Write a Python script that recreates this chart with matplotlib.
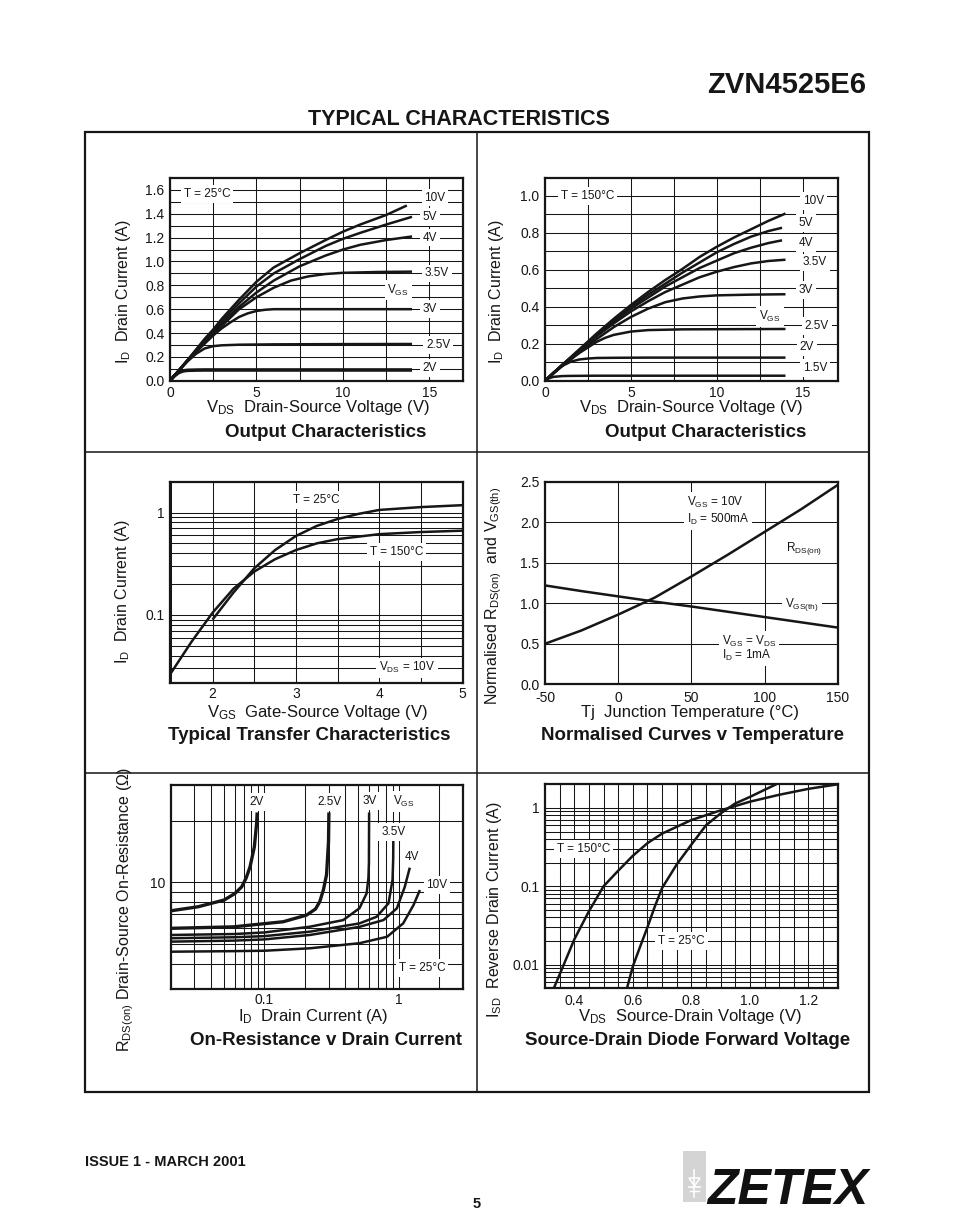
import matplotlib
matplotlib.use('Agg')
import matplotlib.pyplot as plt
from matplotlib.ticker import FixedLocator, NullFormatter
from matplotlib import font_manager
from matplotlib.patches import Rectangle, Polygon
from matplotlib.lines import Line2D

# ---------------- data ----------------
# Panel 1 : Output characteristics, T = 25C  (VDS [V], ID [A])
p1_v_10 = [0, 0.5, 1, 1.5, 2, 2.5, 3, 3.5, 4, 5, 6, 7.5, 9, 10, 11, 12.5, 13.7]
p1_i_10 = [0, 0.085, 0.17, 0.26, 0.35, 0.43, 0.52, 0.6, 0.68, 0.83, 0.95, 1.07, 1.18, 1.25, 1.31, 1.39, 1.47]
p1_v_5 = [0, 0.5, 1, 1.5, 2, 2.5, 3, 3.5, 4, 5, 6, 7.5, 9, 10, 11, 12.5, 14]
p1_i_5 = [0, 0.085, 0.17, 0.255, 0.34, 0.42, 0.5, 0.575, 0.65, 0.79, 0.9, 1.02, 1.13, 1.19, 1.24, 1.31, 1.375]
p1_v_4 = [0, 0.5, 1, 1.5, 2, 2.5, 3, 3.5, 4, 5, 6, 7.5, 9, 10, 11, 12.5, 14]
p1_i_4 = [0, 0.085, 0.17, 0.25, 0.33, 0.405, 0.48, 0.55, 0.62, 0.74, 0.84, 0.96, 1.05, 1.1, 1.14, 1.18, 1.21]
p1_v_35 = [0, 0.5, 1, 1.5, 2, 2.5, 3, 3.5, 4, 4.5, 5, 5.5, 6, 7, 8, 9, 10, 12, 14]
p1_i_35 = [0, 0.085, 0.165, 0.245, 0.32, 0.39, 0.46, 0.53, 0.6, 0.65, 0.7, 0.74, 0.78, 0.84, 0.875, 0.895, 0.905, 0.912, 0.915]
p1_v_3 = [0, 0.5, 1, 1.5, 2, 2.5, 3, 3.5, 4, 4.5, 5, 5.5, 6, 7, 10, 14]
p1_i_3 = [0, 0.085, 0.165, 0.24, 0.31, 0.38, 0.44, 0.49, 0.535, 0.565, 0.585, 0.595, 0.6, 0.6, 0.6, 0.6]
p1_v_25 = [0, 0.5, 1, 1.5, 2, 2.5, 3, 4, 6, 10, 14]
p1_i_25 = [0, 0.08, 0.16, 0.225, 0.27, 0.29, 0.297, 0.302, 0.305, 0.307, 0.308]
p1_v_2 = [0, 0.25, 0.5, 0.75, 1, 1.5, 2, 14]
p1_i_2 = [0, 0.04, 0.068, 0.082, 0.087, 0.089, 0.09, 0.09]
p1_labels = ['10V', '5V', '4V', '3.5V', '3V', '2.5V', '2V']
p1_label_x = [15.33, 15.04, 15.04, 15.42, 15.04, 15.52, 15.04]
p1_label_y = [1.536, 1.376, 1.2, 0.9, 0.6, 0.3, 0.109]
p1_xticks = [0, 5, 10, 15]
p1_xtlabels = ['0', '5', '10', '15']
p1_yticks = [0.0, 0.2, 0.4, 0.6, 0.8, 1.0, 1.2, 1.4, 1.6]
p1_ytlabels = ['0.0', '0.2', '0.4', '0.6', '0.8', '1.0', '1.2', '1.4', '1.6']

# Panel 2 : Output characteristics, T = 150C
p2_v_10 = [0, 1, 2, 3, 4, 5, 6, 7, 8, 9, 10, 11, 12, 13, 14]
p2_i_10 = [0, 0.085, 0.17, 0.255, 0.335, 0.41, 0.48, 0.545, 0.605, 0.67, 0.725, 0.775, 0.82, 0.865, 0.905]
p2_v_5 = [0, 1, 2, 3, 4, 5, 6, 7, 8, 9, 10, 11, 12, 13, 13.8]
p2_i_5 = [0, 0.085, 0.165, 0.25, 0.325, 0.4, 0.465, 0.525, 0.585, 0.64, 0.695, 0.74, 0.78, 0.81, 0.828]
p2_v_4 = [0, 1, 2, 3, 4, 5, 6, 7, 8, 9, 10, 11, 12, 13, 13.8]
p2_i_4 = [0, 0.085, 0.165, 0.245, 0.32, 0.39, 0.45, 0.51, 0.56, 0.61, 0.65, 0.69, 0.72, 0.745, 0.76]
p2_v_35 = [0, 1, 2, 3, 4, 5, 6, 7, 8, 9, 10, 11, 12, 13, 14]
p2_i_35 = [0, 0.085, 0.16, 0.24, 0.31, 0.375, 0.43, 0.48, 0.52, 0.56, 0.59, 0.615, 0.635, 0.648, 0.655]
p2_v_3 = [0, 1, 2, 3, 4, 5, 6, 7, 8, 9, 10, 12, 14]
p2_i_3 = [0, 0.08, 0.155, 0.225, 0.29, 0.345, 0.39, 0.425, 0.445, 0.456, 0.462, 0.466, 0.468]
p2_v_25 = [0, 1, 2, 2.5, 3, 3.5, 4, 5, 6, 8, 14]
p2_i_25 = [0, 0.08, 0.15, 0.18, 0.21, 0.232, 0.248, 0.266, 0.274, 0.278, 0.28]
p2_v_2 = [0, 0.5, 1, 1.5, 2, 2.5, 3, 4, 6, 14]
p2_i_2 = [0, 0.045, 0.08, 0.103, 0.115, 0.12, 0.123, 0.124, 0.125, 0.125]
p2_v_15 = [0, 0.25, 0.5, 1, 1.5, 3, 14]
p2_i_15 = [0, 0.014, 0.021, 0.025, 0.026, 0.027, 0.027]
p2_labels = ['10V', '5V', '4V', '3.5V', '3V', '2.5V', '2V', '1.5V']
p2_label_x = [15.62, 15.2, 15.2, 15.72, 15.2, 15.82, 15.23, 15.72]
p2_label_y = [0.973, 0.852, 0.744, 0.64, 0.49, 0.296, 0.184, 0.067]
p2_xticks = [0, 5, 10, 15]
p2_xtlabels = ['0', '5', '10', '15']
p2_yticks = [0.0, 0.2, 0.4, 0.6, 0.8, 1.0]
p2_ytlabels = ['0.0', '0.2', '0.4', '0.6', '0.8', '1.0']

# Panel 3 : Transfer characteristics (VGS [V], ID [A]), VDS = 10V
p3_vgs_150 = [1.5, 1.75, 2.0, 2.25, 2.5, 2.75, 3.0, 3.25, 3.5, 4.0, 4.5, 5.0]
p3_id_150 = [0.027, 0.055, 0.105, 0.18, 0.265, 0.35, 0.43, 0.5, 0.55, 0.615, 0.645, 0.665]
p3_vgs_25 = [2.0, 2.25, 2.5, 2.75, 3.0, 3.25, 3.5, 3.75, 4.0, 4.5, 5.0]
p3_id_25 = [0.09, 0.165, 0.285, 0.43, 0.59, 0.74, 0.865, 0.97, 1.06, 1.13, 1.18]
p3_xticks = [2, 3, 4, 5]
p3_xtlabels = ['2', '3', '4', '5']
p3_yticks = [0.02, 0.1, 1]
p3_ytlabels = ['0.02', '0.1', '1']

# Panel 4 : Normalised curves v temperature
p4_t_rds = [-50, -25, 0, 25, 50, 75, 100, 125, 150]
p4_rds = [0.5, 0.665, 0.86, 1.07, 1.33, 1.6, 1.88, 2.16, 2.46]
p4_t_vth = [-50, -25, 0, 25, 50, 75, 100, 125, 150]
p4_vth = [1.22, 1.15, 1.085, 1.02, 0.96, 0.895, 0.83, 0.765, 0.70]
p4_xticks = [-50, 0, 50, 100, 150]
p4_xtlabels = ['-50', '0', '50', '100', '150']
p4_yticks = [0.0, 0.5, 1.0, 1.5, 2.0, 2.5]
p4_ytlabels = ['0.0', '0.5', '1.0', '1.5', '2.0', '2.5']

# Panel 5 : On-resistance v drain current (ID [A], RDS(on) [ohm]), T = 25C
p5_i_2 = [0.02, 0.032, 0.05, 0.06, 0.0676, 0.073, 0.078, 0.084, 0.0874, 0.0882]
p5_r_2 = [7.25, 7.59, 8.19, 8.8, 9.5, 10.5, 11.9, 14.9, 19.5, 22]
p5_i_25 = [0.02, 0.0586, 0.138, 0.206, 0.24, 0.258, 0.275, 0.29, 0.3, 0.302]
p5_r_25 = [5.95, 6.05, 6.41, 6.91, 7.4, 8.03, 9.2, 10.9, 15.8, 22]
p5_i_3 = [0.02, 0.06, 0.1, 0.218, 0.386, 0.51, 0.577, 0.595, 0.6, 0.602]
p5_r_3 = [5.52, 5.58, 5.68, 6.06, 6.53, 7.46, 8.83, 10.5, 12.4, 22]
p5_i_35 = [0.02, 0.06, 0.1, 0.218, 0.51, 0.685, 0.84, 0.9, 0.91, 0.912]
p5_r_35 = [5.32, 5.38, 5.45, 5.73, 6.29, 6.78, 7.89, 10.3, 13.0, 16.0]
p5_i_4 = [0.02, 0.06, 0.1, 0.218, 0.51, 0.77, 0.97, 1.11, 1.21]
p5_r_4 = [5.12, 5.18, 5.25, 5.52, 6.05, 6.53, 7.46, 9.5, 11.8]
p5_i_10 = [0.02, 0.06, 0.1, 0.218, 0.51, 0.82, 1.08, 1.29, 1.44]
p5_r_10 = [4.57, 4.6, 4.62, 4.75, 5.03, 5.41, 6.29, 7.74, 9.17]
p5_xticks = [0.1, 1]
p5_xtlabels = ['0.1', '1']
p5_yticks = [10]
p5_ytlabels = ['10']

# Panel 6 : Source-drain diode forward voltage (VSD [V], ISD [A])
p6_v_150 = [0.33, 0.35, 0.4, 0.45, 0.5, 0.55, 0.6, 0.65, 0.7, 0.8, 0.9, 1.0, 1.1, 1.2, 1.3]
p6_i_150 = [0.005, 0.0075, 0.021, 0.048, 0.1, 0.158, 0.245, 0.355, 0.47, 0.7, 0.93, 1.2, 1.47, 1.75, 2.0]
p6_v_25 = [0.58, 0.6, 0.625, 0.65, 0.675, 0.7, 0.75, 0.8, 0.85, 0.9, 0.95, 1.0, 1.05, 1.09]
p6_i_25 = [0.005, 0.0095, 0.017, 0.03, 0.055, 0.095, 0.19, 0.34, 0.6, 0.85, 1.14, 1.38, 1.7, 2.0]
p6_xticks = [0.4, 0.6, 0.8, 1.0, 1.2]
p6_xtlabels = ['0.4', '0.6', '0.8', '1.0', '1.2']
p6_yticks = [0.01, 0.1, 1]
p6_ytlabels = ['0.01', '0.1', '1']

# ---------------- style ----------------
W, H = 954, 1227


def has_font(name):
    try:
        font_manager.findfont(font_manager.FontProperties(family=name), fallback_to_default=False)
        return True
    except Exception:
        return False


BASE = 'Liberation Sans' if has_font('Liberation Sans') else 'DejaVu Sans'
NARROW = 'Liberation Sans Narrow' if has_font('Liberation Sans Narrow') else BASE

plt.rcParams['font.family'] = [BASE, 'DejaVu Sans']
plt.rcParams['mathtext.fontset'] = 'custom'
plt.rcParams['mathtext.rm'] = BASE
plt.rcParams['mathtext.it'] = BASE + ':italic'
plt.rcParams['mathtext.bf'] = BASE + ':bold'

INK = '#161616'
CURVE_LW = 1.8
GRID_LW = 0.75
TICK_FS = 10
LAB_FS = 8.5
AX_FS = 11.5
TITLE_FS = 13.5

fig = plt.figure(figsize=(W / 100, H / 100), dpi=100)
fig.patch.set_facecolor('white')


def fx(x):
    return x / W


def fy(y):
    return 1 - y / H


def ftext(x, y, s, **kw):
    kw.setdefault('color', INK)
    fig.text(fx(x), fy(y), s, **kw)


def make_ax(l, t, r, b):
    ax = fig.add_axes([l / W, 1 - b / H, (r - l) / W, (b - t) / H])
    for s in ax.spines.values():
        s.set_linewidth(1.6)
        s.set_color(INK)
    ax.tick_params(which='both', length=0, labelsize=TICK_FS, pad=4, colors=INK)
    ax.set_axisbelow(True)
    return ax


def set_ticks(ax, xt, xl, yt, yl, xminor, yminor):
    ax.xaxis.set_major_locator(FixedLocator(xt))
    ax.set_xticklabels(xl)
    ax.yaxis.set_major_locator(FixedLocator(yt))
    ax.set_yticklabels(yl)
    ax.xaxis.set_minor_locator(FixedLocator(xminor))
    ax.yaxis.set_minor_locator(FixedLocator(yminor))
    ax.xaxis.set_minor_formatter(NullFormatter())
    ax.yaxis.set_minor_formatter(NullFormatter())
    ax.grid(True, which='both', color=INK, lw=GRID_LW)


def lab(ax, x, y, s, ha='center', fs=LAB_FS):
    ax.text(x, y, s, ha=ha, va='center', fontsize=fs, color=INK, zorder=5,
            bbox=dict(facecolor='white', edgecolor='none', pad=2.0))


def curve(ax, x, y, lw=CURVE_LW):
    ax.plot(x, y, color=INK, lw=lw, solid_capstyle='butt', zorder=4)


# ---------------- Panel 1 ----------------
ax1 = make_ax(170, 177.7, 462.7, 380.7)
ax1.set_xlim(0, 16.93)
ax1.set_ylim(0, 1.703)
set_ticks(ax1, p1_xticks, p1_xtlabels, p1_yticks, p1_ytlabels,
          [2.5, 7.5, 12.5], [0.1, 0.3, 0.5, 0.7, 0.9, 1.1, 1.3, 1.5])
for xs, ys in [(p1_v_10, p1_i_10), (p1_v_5, p1_i_5), (p1_v_4, p1_i_4), (p1_v_35, p1_i_35),
               (p1_v_3, p1_i_3), (p1_v_25, p1_i_25)]:
    curve(ax1, xs, ys)
curve(ax1, p1_v_2, p1_i_2, lw=2.6)
for s, x, y in zip(p1_labels, p1_label_x, p1_label_y):
    lab(ax1, x, y, s)
lab(ax1, 13.2, 0.76, r'$\mathrm{V_{GS}}$')
lab(ax1, 2.15, 1.565, 'T = 25°C')

# ---------------- Panel 2 ----------------
ax2 = make_ax(545, 177.7, 837.7, 380.7)
ax2.set_xlim(0, 17.04)
ax2.set_ylim(0, 1.099)
set_ticks(ax2, p2_xticks, p2_xtlabels, p2_yticks, p2_ytlabels,
          [2.5, 7.5, 12.5], [0.1, 0.3, 0.5, 0.7, 0.9])
for xs, ys in [(p2_v_10, p2_i_10), (p2_v_5, p2_i_5), (p2_v_4, p2_i_4), (p2_v_35, p2_i_35),
               (p2_v_3, p2_i_3), (p2_v_25, p2_i_25), (p2_v_2, p2_i_2), (p2_v_15, p2_i_15)]:
    curve(ax2, xs, ys)
for s, x, y in zip(p2_labels, p2_label_x, p2_label_y):
    lab(ax2, x, y, s)
lab(ax2, 13.1, 0.347, r'$\mathrm{V_{GS}}$')
lab(ax2, 2.46, 1.0, 'T = 150°C')

# ---------------- Panel 3 ----------------
ax3 = make_ax(170, 481.7, 462.7, 683.3)
ax3.set_yscale('log')
ax3.set_xlim(1.49, 5.0)
ax3.set_ylim(0.0215, 2.0)
set_ticks(ax3, p3_xticks, p3_xtlabels, p3_yticks, p3_ytlabels,
          [1.5, 2.5, 3.5, 4.5],
          [0.03, 0.04, 0.05, 0.06, 0.07, 0.08, 0.09, 0.2, 0.3, 0.4, 0.5, 0.6, 0.7, 0.8, 0.9])
ax3.tick_params(axis='x', pad=3)
curve(ax3, p3_vgs_150, p3_id_150)
curve(ax3, p3_vgs_25, p3_id_25)
lab(ax3, 3.24, 1.32, 'T = 25°C')
lab(ax3, 4.21, 0.414, 'T = 150°C')
lab(ax3, 4.33, 0.0304, r'$\mathrm{V_{DS}}$ = 10V')

# ---------------- Panel 4 ----------------
ax4 = make_ax(545, 481.7, 837.7, 684.3)
ax4.set_xlim(-50, 150)
ax4.set_ylim(0, 2.5)
set_ticks(ax4, p4_xticks, p4_xtlabels, p4_yticks, p4_ytlabels, [], [])
ax4.tick_params(axis='x', pad=5)
curve(ax4, p4_t_rds, p4_rds)
curve(ax4, p4_t_vth, p4_vth)
lab(ax4, 47, 2.25, r'$\mathrm{V_{GS}}$ = 10V', ha='left')
lab(ax4, 47, 2.03, r'$\mathrm{I_{D}}$ = 500mA', ha='left')
lab(ax4, 115, 1.68, r'$\mathrm{R_{DS(on)}}$', ha='left')
lab(ax4, 114, 0.98, r'$\mathrm{V_{GS(th)}}$', ha='left')
lab(ax4, 70.7, 0.53, r'$\mathrm{V_{GS}}$ = $\mathrm{V_{DS}}$', ha='left')
lab(ax4, 70.7, 0.35, r'$\mathrm{I_{D}}$ = 1mA', ha='left')

# ---------------- Panel 5 ----------------
ax5 = make_ax(170.7, 785, 462.7, 989)
ax5.set_xscale('log')
ax5.set_yscale('log')
ax5.set_xlim(0.02, 3.0)
ax5.set_ylim(3.0, 30.0)
set_ticks(ax5, p5_xticks, p5_xtlabels, p5_yticks, p5_ytlabels,
          [0.03, 0.04, 0.05, 0.06, 0.07, 0.08, 0.09, 0.2, 0.3, 0.4, 0.5, 0.6, 0.7, 0.8, 0.9, 2],
          [4, 5, 6, 7, 8, 9, 20])
ax5.tick_params(axis='x', pad=3)
curve(ax5, p5_i_2, p5_r_2, lw=2.4)
curve(ax5, p5_i_25, p5_r_25, lw=2.4)
for xs, ys in [(p5_i_3, p5_r_3), (p5_i_35, p5_r_35), (p5_i_4, p5_r_4), (p5_i_10, p5_r_10)]:
    curve(ax5, xs, ys)
lab(ax5, 0.087, 24.8, '2V')
lab(ax5, 0.307, 24.8, '2.5V')
lab(ax5, 0.61, 25.0, '3V')
lab(ax5, 0.9, 25.0, r'$\mathrm{V_{GS}}$', ha='left')
lab(ax5, 0.91, 17.7, '3.5V')
lab(ax5, 1.26, 13.3, '4V')
lab(ax5, 1.93, 9.7, '10V')
lab(ax5, 1.49, 3.81, 'T = 25°C')

# ---------------- Panel 6 ----------------
ax6 = make_ax(545, 784.3, 837.7, 988.3)
ax6.set_yscale('log')
ax6.set_xlim(0.3, 1.3)
ax6.set_ylim(0.005, 2.0)
set_ticks(ax6, p6_xticks, p6_xtlabels, p6_yticks, p6_ytlabels,
          [0.35, 0.45, 0.5, 0.55, 0.65, 0.7, 0.75, 0.85, 0.9, 0.95, 1.05, 1.1, 1.15, 1.25],
          [0.006, 0.007, 0.008, 0.009, 0.02, 0.03, 0.04, 0.05, 0.06, 0.07, 0.08, 0.09,
           0.2, 0.3, 0.4, 0.5, 0.6, 0.7, 0.8, 0.9])
ax6.tick_params(axis='x', pad=4)
curve(ax6, p6_v_150, p6_i_150)
curve(ax6, p6_v_25, p6_i_25)
lab(ax6, 0.432, 0.30, 'T = 150°C')
lab(ax6, 0.766, 0.02, 'T = 25°C')

# ---------------- axis labels and titles ----------------
ftext(318, 412, r'$\mathrm{V_{DS}}$  Drain-Source Voltage (V)', ha='center', va='baseline', fontsize=12)
ftext(326, 437, 'Output Characteristics', ha='center', va='baseline', fontsize=TITLE_FS, fontweight='bold')
ftext(124, 292, r'$\mathrm{I_{D}}$  Drain Current (A)', ha='center', va='center', rotation=90, fontsize=AX_FS)

ftext(691, 412, r'$\mathrm{V_{DS}}$  Drain-Source Voltage (V)', ha='center', va='baseline', fontsize=12)
ftext(706, 437, 'Output Characteristics', ha='center', va='baseline', fontsize=TITLE_FS, fontweight='bold')
ftext(497, 292, r'$\mathrm{I_{D}}$  Drain Current (A)', ha='center', va='center', rotation=90, fontsize=AX_FS)

ftext(317, 717, r'$\mathrm{V_{GS}}$  Gate-Source Voltage (V)', ha='center', va='baseline', fontsize=12)
ftext(309, 740, 'Typical Transfer Characteristics', ha='center', va='baseline', fontsize=TITLE_FS, fontweight='bold')
ftext(123, 592, r'$\mathrm{I_{D}}$  Drain Current (A)', ha='center', va='center', rotation=90, fontsize=AX_FS)

ftext(690, 717, 'Tj  Junction Temperature (°C)', ha='center', va='baseline', fontsize=12)
ftext(693, 740, 'Normalised Curves v Temperature', ha='center', va='baseline', fontsize=TITLE_FS, fontweight='bold')
ftext(494, 596, r'Normalised $\mathrm{R_{DS(on)}}$  and $\mathrm{V_{GS(th)}}$', ha='center', va='center',
      rotation=90, fontsize=AX_FS)

ftext(313, 1021, r'$\mathrm{I_{D}}$  Drain Current (A)', ha='center', va='baseline', fontsize=12)
ftext(326, 1045, 'On-Resistance v Drain Current', ha='center', va='baseline', fontsize=TITLE_FS, fontweight='bold')
ftext(126, 910, r'$\mathrm{R_{DS(on)}}$ Drain-Source On-Resistance (Ω)', ha='center', va='center',
      rotation=90, fontsize=AX_FS)

ftext(690, 1021, r'$\mathrm{V_{DS}}$  Source-Drain Voltage (V)', ha='center', va='baseline', fontsize=12)
ftext(688, 1045, 'Source-Drain Diode Forward Voltage', ha='center', va='baseline', fontsize=TITLE_FS,
      fontweight='bold')
ftext(495, 910, r'$\mathrm{I_{SD}}$  Reverse Drain Current (A)', ha='center', va='center', rotation=90,
      fontsize=AX_FS)

# ---------------- page frame ----------------
fig.add_artist(Rectangle((fx(85), fy(1092)), (869 - 85) / W, (1092 - 132) / H, transform=fig.transFigure,
                         fill=False, edgecolor=INK, lw=1.6))
fig.add_artist(Line2D([fx(477.5), fx(477.5)], [fy(132), fy(1092)], transform=fig.transFigure, color=INK, lw=1.1))
fig.add_artist(Line2D([fx(85), fx(869)], [fy(452), fy(452)], transform=fig.transFigure, color=INK, lw=1.1))
fig.add_artist(Line2D([fx(85), fx(869)], [fy(773), fy(773)], transform=fig.transFigure, color=INK, lw=1.1))

# ---------------- header / footer ----------------
ftext(866, 93, 'ZVN4525E6', ha='right', va='baseline', fontsize=24 if NARROW != BASE else 21,
      fontweight='bold', family=[NARROW, 'DejaVu Sans'])
ftext(459, 125, 'TYPICAL CHARACTERISTICS', ha='center', va='baseline', fontsize=15.5, fontweight='bold')
ftext(85, 1166, 'ISSUE 1 - MARCH 2001', ha='left', va='baseline', fontsize=10.5, fontweight='bold')
ftext(477, 1208, '5', ha='center', va='baseline', fontsize=10.5, fontweight='bold')

# logo
fig.add_artist(Rectangle((fx(683), fy(1202)), 23 / W, 51 / H, transform=fig.transFigure,
                         facecolor='#d4d4d4', edgecolor='none'))
fig.add_artist(Line2D([fx(694.5), fx(694.5)], [fy(1170), fy(1197)], transform=fig.transFigure,
                      color='white', lw=1.2))
fig.add_artist(Polygon([(fx(689), fy(1178)), (fx(700), fy(1178)), (fx(694.5), fy(1186))],
                       closed=True, transform=fig.transFigure, facecolor='none', edgecolor='white', lw=1.1))
fig.add_artist(Line2D([fx(689), fx(700)], [fy(1187), fy(1187)], transform=fig.transFigure,
                      color='white', lw=1.2))
fig.add_artist(Line2D([fx(690), fx(699)], [fy(1191), fy(1191)], transform=fig.transFigure,
                      color='white', lw=1.0))
ftext(707, 1204, 'ZETEX', ha='left', va='baseline', fontsize=44 if NARROW != BASE else 36,
      fontweight='bold', fontstyle='italic', family=[NARROW, 'DejaVu Sans'], color='#111111')

fig.savefig('out.png', dpi=100, facecolor='white')
